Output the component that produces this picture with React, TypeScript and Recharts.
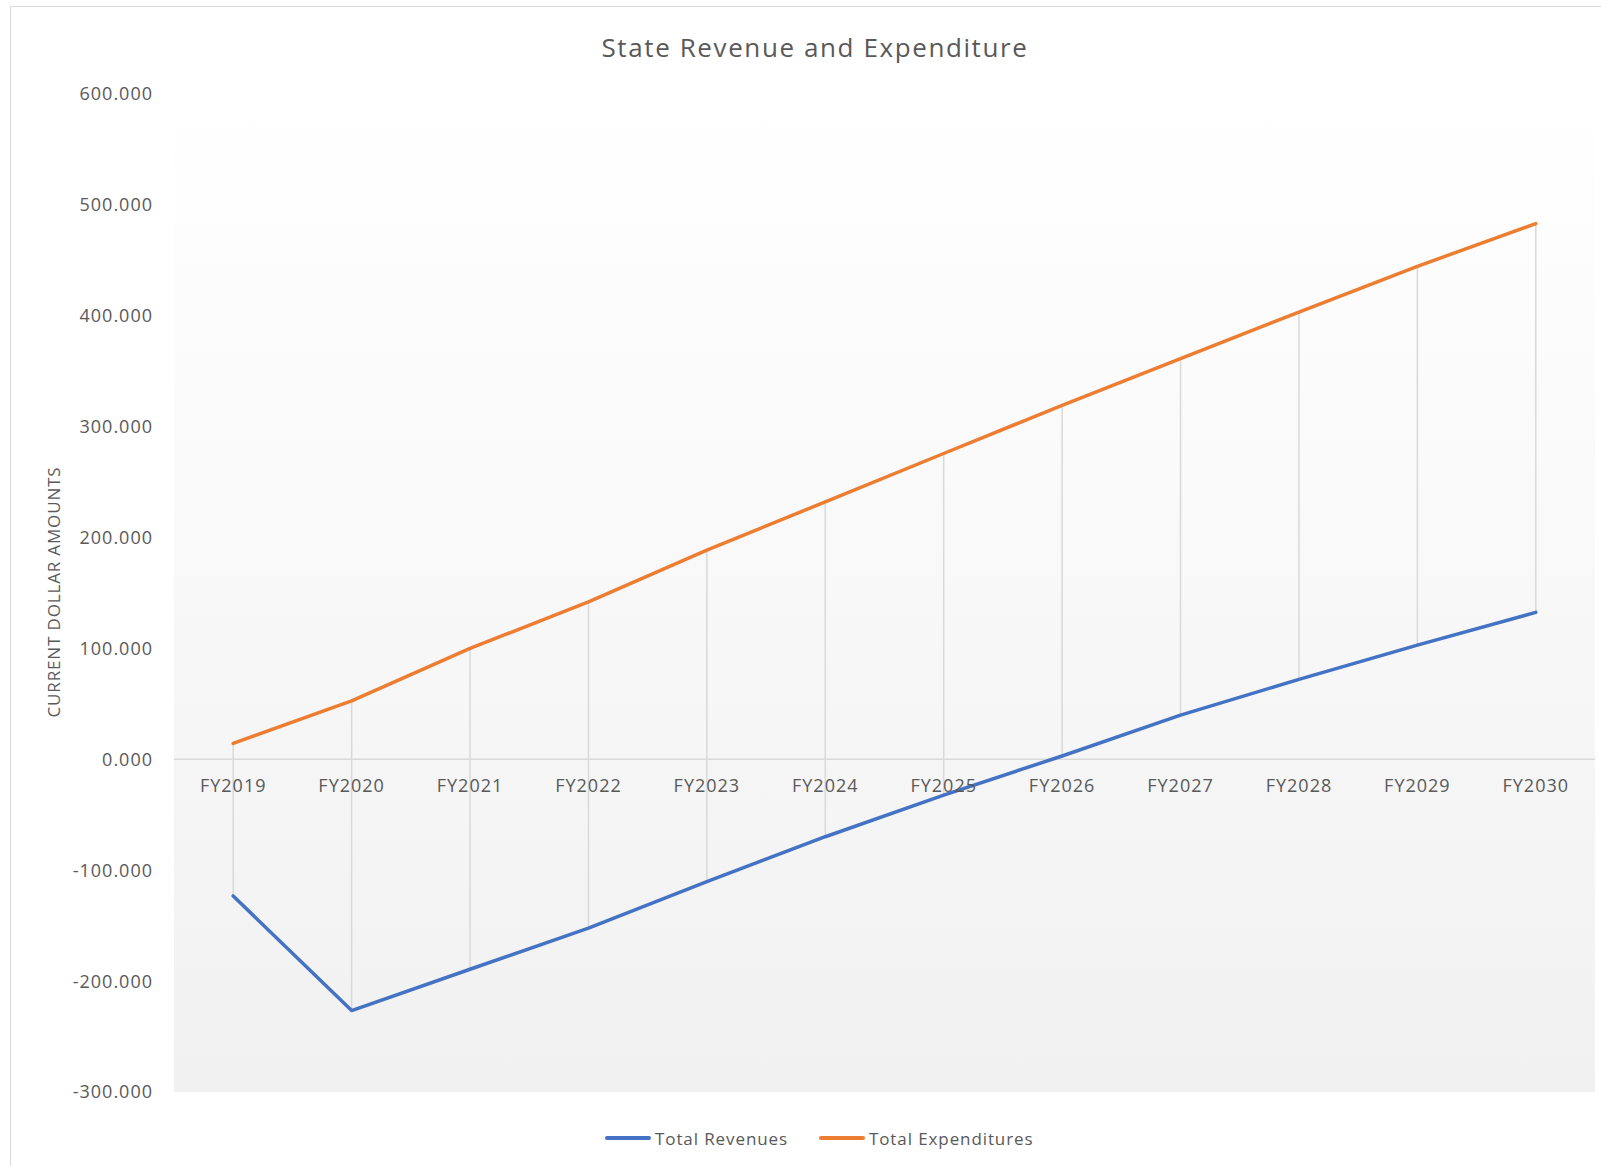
import React from 'react';
import { LineChart, Line, XAxis, YAxis, ReferenceLine, ReferenceDot, ReferenceArea } from 'recharts';

const categories = ['FY2019', 'FY2020', 'FY2021', 'FY2022', 'FY2023', 'FY2024', 'FY2025', 'FY2026', 'FY2027', 'FY2028', 'FY2029', 'FY2030'];
const totalRevenues = [-123.2, -226.6, -189.3, -152.3, -110.3, -69.8, -32.2, 3.0, 39.9, 72.1, 103.0, 132.5];
const totalExpenditures = [14.4, 52.8, 100.0, 142.0, 188.6, 232.2, 275.8, 319.3, 361.4, 403.4, 444.6, 483.1];
const yTicks = [-300, -200, -100, 0, 100, 200, 300, 400, 500, 600];
const seriesNames = ['Total Revenues', 'Total Expenditures'];
const seriesColors = ['#4472C4', '#ED7D31'];
const title = 'State Revenue and Expenditure';
const yTitle = 'CURRENT DOLLAR AMOUNTS';

const data = categories.map((c, i) => ({ cat: c, rev: totalRevenues[i], exp: totalExpenditures[i] }));

const FONT = '"Open Sans", "DejaVu Sans", sans-serif';
const TEXT = '#595959';

const catLabel = (cat: string) => (props: any) => {
  const vb = props.viewBox || {};
  const cx = (vb.x ?? 0) + (vb.width ?? 0) / 2;
  const cy = (vb.y ?? 0) + (vb.height ?? 0) / 2;
  return (
    <text x={cx} y={cy + 33} textAnchor="middle" fill={TEXT} fontSize={18} fontFamily={FONT} letterSpacing={1}>
      {cat}
    </text>
  );
};

export default function App() {
  return (
    <div style={{ position: 'absolute', left: 0, top: 0, width: 1601, height: 1166, background: '#fff', overflow: 'hidden', fontFamily: FONT }}>
      <svg width={0} height={0} style={{ position: 'absolute' }}>
        <defs>
          <linearGradient id="plotBg" x1="0" y1="0" x2="0" y2="1">
            <stop offset="0%" stopColor="#ffffff" />
            <stop offset="15%" stopColor="#fdfdfd" />
            <stop offset="100%" stopColor="#f1f1f1" />
          </linearGradient>
        </defs>
      </svg>
      <div style={{ position: 'absolute', left: 10, top: 6, width: 1591, height: 1160, borderLeft: '1px solid #d9d9d9', borderTop: '1px solid #d9d9d9', boxSizing: 'border-box' }} />
      <div style={{ position: 'absolute', left: 0, top: 0, width: 1601, height: 1166 }}>
        <LineChart width={1601} height={1166} data={data} margin={{ top: 94, right: 6, bottom: 74, left: 0 }}>
          <XAxis dataKey="cat" hide scale="band" />
          <YAxis
            width={174}
            domain={[-300, 600]}
            ticks={yTicks}
            interval={0}
            axisLine={false}
            tickLine={false}
            tickSize={0}
            tickMargin={21}
            tickFormatter={(v: number) => v.toFixed(3)}
            tick={{ fill: TEXT, fontSize: 18, fontFamily: FONT, letterSpacing: 1 }}
          />
          <ReferenceArea y1={-300} y2={600} fill="url(#plotBg)" fillOpacity={1} stroke="none" />
          <ReferenceLine y={0} stroke="#d9d9d9" strokeWidth={1.5} />
          {data.map((d) => (
            <ReferenceLine
              key={'hl' + d.cat}
              segment={[{ x: d.cat, y: Math.min(d.rev, d.exp) }, { x: d.cat, y: Math.max(d.rev, d.exp) }]}
              stroke="#d9d9d9"
              strokeWidth={1.5}
            />
          ))}
          {data.map((d) => (
            <ReferenceDot key={'lb' + d.cat} x={d.cat} y={0} r={1} fill="none" stroke="none" label={catLabel(d.cat)} />
          ))}
          <Line type="linear" dataKey="rev" name={seriesNames[0]} stroke={seriesColors[0]} strokeWidth={3.5} dot={false} isAnimationActive={false} strokeLinecap="round" strokeLinejoin="round" />
          <Line type="linear" dataKey="exp" name={seriesNames[1]} stroke={seriesColors[1]} strokeWidth={3.5} dot={false} isAnimationActive={false} strokeLinecap="round" strokeLinejoin="round" />
        </LineChart>
      </div>
      <div style={{ position: 'absolute', left: 415, top: 28, width: 800, textAlign: 'center', fontSize: 26, color: TEXT, letterSpacing: 1.6, lineHeight: '38px', whiteSpace: 'nowrap' }}>
        {title}
      </div>
      <div style={{ position: 'absolute', left: 54 - 200, top: 592 - 12, width: 400, height: 24, lineHeight: '24px', textAlign: 'center', transform: 'rotate(-90deg)', fontSize: 17, color: TEXT, letterSpacing: 0.85, whiteSpace: 'nowrap' }}>
        {yTitle}
      </div>
      <div style={{ position: 'absolute', left: 605, top: 1125, height: 26, display: 'flex', alignItems: 'center', gap: 31, fontSize: 17, color: TEXT, letterSpacing: 0.9, whiteSpace: 'nowrap' }}>
        {seriesNames.map((n, i) => (
          <div key={n} style={{ display: 'flex', alignItems: 'center' }}>
            <div style={{ width: 46, height: 3.5, background: seriesColors[i], borderRadius: 2, marginRight: 4 }} />
            <span>{n}</span>
          </div>
        ))}
      </div>
    </div>
  );
}
